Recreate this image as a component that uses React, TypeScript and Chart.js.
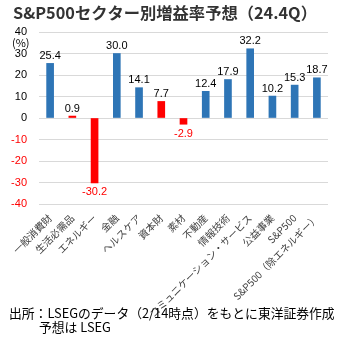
import React, { useEffect, useRef } from "react";
import { Chart, registerables } from "chart.js";

Chart.register(...registerables);

const TITLE = "S&P500セクター別増益率予想（24.4Q）";
const UNIT = "(%)";
const FOOTER1 = "出所：LSEGのデータ（2/14時点）をもとに東洋証券作成";
const FOOTER2 = "予想は LSEG";

const categories = [
  "一般消費財",
  "生活必需品",
  "エネルギー",
  "金融",
  "ヘルスケア",
  "資本財",
  "素材",
  "不動産",
  "情報技術",
  "コミュニケーション・サービス",
  "公益事業",
  "S&P500",
  "S&P500（除エネルギー）",
];
const values = [25.4, 0.9, -30.2, 30.0, 14.1, 7.7, -2.9, 12.4, 17.9, 32.2, 10.2, 15.3, 18.7];
const redCategories = ["生活必需品", "エネルギー", "資本財", "素材"];

const BLUE = "#2E75B6";
const RED = "#FF0000";
const LATIN = "'Liberation Sans', 'Noto Sans CJK JP', sans-serif";
const CJK = "'Noto Sans CJK JP', sans-serif";

const textPlugin = {
  id: "texts",
  afterDraw(chart: any) {
    const ctx = chart.ctx;
    ctx.save();
    // title
    ctx.fillStyle = "#333333";
    ctx.font = `bold 16.3px ${CJK}`;
    ctx.textAlign = "left";
    ctx.textBaseline = "middle";
    ctx.fillText(TITLE, 13, 13);
    // unit
    ctx.fillStyle = "#000000";
    ctx.font = `11px ${CJK}`;
    ctx.fillText(UNIT, 12, 43);
    // data labels
    const meta = chart.getDatasetMeta(0);
    ctx.font = `11px ${LATIN}`;
    ctx.textAlign = "center";
    meta.data.forEach((bar: any, i: number) => {
      const v = values[i];
      const txt = v.toFixed(1);
      if (v >= 0) {
        ctx.fillStyle = "#000000";
        ctx.textBaseline = "bottom";
        ctx.fillText(txt, bar.x, bar.y - 2);
      } else {
        ctx.fillStyle = RED;
        ctx.textBaseline = "top";
        ctx.fillText(txt, bar.x, bar.y + 4);
      }
    });
    // footer
    ctx.fillStyle = "#000000";
    ctx.font = `12.8px ${CJK}`;
    ctx.textAlign = "left";
    ctx.textBaseline = "middle";
    ctx.fillText(FOOTER1, 9, 313);
    ctx.fillText(FOOTER2, 39, 327);
    ctx.restore();
  },
};

export default function App() {
  const ref = useRef<HTMLCanvasElement>(null);
  useEffect(() => {
    const canvas = ref.current!;
    const chart = new Chart(canvas, {
      type: "bar",
      data: {
        labels: categories,
        datasets: [
          {
            data: values,
            backgroundColor: categories.map((c, i) =>
              values[i] < 0 || redCategories.includes(c) ? RED : BLUE
            ),
            borderWidth: 0,
            barThickness: 7,
          },
        ],
      },
      options: {
        responsive: false,
        animation: false,
        layout: { padding: { top: 32, right: 12, left: 0, bottom: 0 } },
        plugins: {
          legend: { display: false },
          tooltip: { enabled: false },
          title: { display: false },
        },
        scales: {
          x: {
            offset: true,
            grid: { display: false, drawTicks: false },
            border: { display: false },
            ticks: {
              autoSkip: false,
              maxRotation: 45,
              minRotation: 45,
              padding: 8,
              color: "#404040",
              font: { size: 10, family: CJK },
            },
            afterFit(scale: any) {
              scale.height = 140;
            },
          },
          y: {
            min: -40,
            max: 40,
            grid: { color: "#D9D9D9", lineWidth: 1, drawTicks: false },
            border: { display: false },
            ticks: {
              stepSize: 10,
              padding: 12,
              color: (c: any) => (c.tick.value < 0 ? RED : "#000000"),
              font: { size: 11, family: LATIN },
            },
            afterFit(scale: any) {
              scale.width = 39;
            },
          },
        },
      },
      plugins: [textPlugin],
    });
    return () => chart.destroy();
  }, []);
  return (
    <div style={{ position: "absolute", left: 0, top: 0, width: 340, height: 344, background: "#fff" }}>
      <canvas ref={ref} width={340} height={344} style={{ display: "block" }} />
    </div>
  );
}
